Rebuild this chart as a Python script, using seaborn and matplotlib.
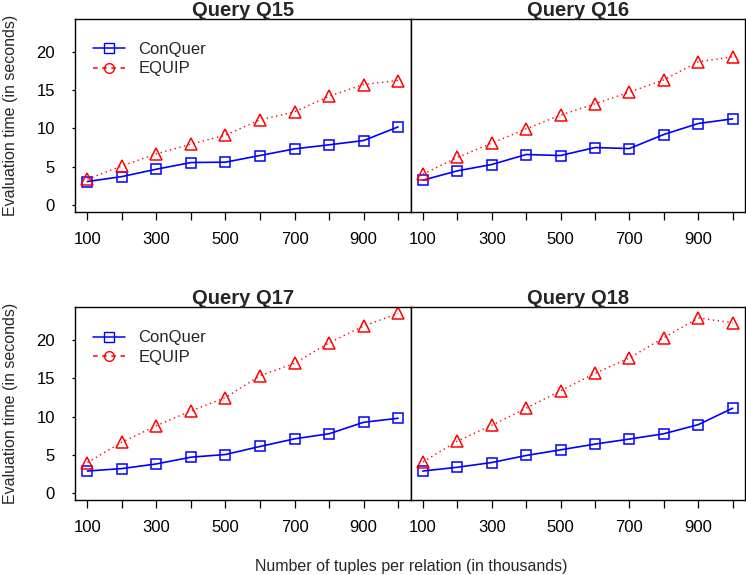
import numpy as np
import pandas as pd
import matplotlib
matplotlib.use("Agg")
import matplotlib.pyplot as plt
from matplotlib.lines import Line2D
import seaborn as sns

# ---------------- data ----------------
tuples = [100, 200, 300, 400, 500, 600, 700, 800, 900, 1000]
x_tick_labels = ["100", "", "300", "", "500", "", "700", "", "900", ""]
y_ticks = [0, 5, 10, 15, 20]

queries = ["Query Q15", "Query Q16", "Query Q17", "Query Q18"]
series_names = ["ConQuer", "EQUIP"]

q15_conquer = [3.05, 3.7, 4.67, 5.54, 5.59, 6.46, 7.33, 7.86, 8.42, 10.2]
q15_equip = [3.36, 5.1, 6.68, 7.95, 9.13, 11.13, 12.18, 14.23, 15.76, 16.28]
q16_conquer = [3.23, 4.45, 5.28, 6.59, 6.46, 7.5, 7.37, 9.21, 10.65, 11.26]
q16_equip = [4.02, 6.2, 8.08, 9.95, 11.75, 13.23, 14.76, 16.37, 18.73, 19.38]
q17_conquer = [2.89, 3.21, 3.82, 4.7, 5.05, 6.1, 7.1, 7.76, 9.26, 9.79]
q17_equip = [4.0, 6.67, 8.82, 10.75, 12.5, 15.36, 16.97, 19.66, 21.84, 23.5]
q18_conquer = [2.89, 3.38, 4.0, 4.92, 5.66, 6.41, 7.07, 7.76, 8.95, 11.1]
q18_equip = [4.08, 6.8, 8.87, 11.1, 13.38, 15.66, 17.68, 20.32, 22.9, 22.29]

conquer_values = [q15_conquer, q16_conquer, q17_conquer, q18_conquer]
equip_values = [q15_equip, q16_equip, q17_equip, q18_equip]

# ---------------- style ----------------
sns.set_theme(style="white")
plt.rcParams["font.family"] = ["Liberation Sans", "DejaVu Sans"]

W, H = 746, 575
fig = plt.figure(figsize=(W / 100, H / 100), dpi=100)

def px_rect(x0, x1, ytop, ybot):
    return [x0 / W, 1 - ybot / H, (x1 - x0) / W, (ybot - ytop) / H]

rects = [
    px_rect(75, 410.5, 19.3, 211.7),
    px_rect(410.5, 745, 19.3, 211.7),
    px_rect(75, 410.5, 307.3, 500),
    px_rect(410.5, 745, 307.3, 500),
]

BLUE = "#0000FF"
RED = "#FF0000"

for i, (q, rect) in enumerate(zip(queries, rects)):
    ax = fig.add_axes(rect)
    df = pd.DataFrame({
        "tuples": tuples * 2,
        "time": conquer_values[i] + equip_values[i],
        "method": [series_names[0]] * len(tuples) + [series_names[1]] * len(tuples),
    })
    sub_c = df[df["method"] == "ConQuer"]
    sub_e = df[df["method"] == "EQUIP"]
    sns.lineplot(data=sub_c, x="tuples", y="time", ax=ax, color=BLUE,
                 linewidth=1.2, linestyle="-", marker="s", markersize=7.2,
                 markerfacecolor="none", markeredgecolor=BLUE, markeredgewidth=1.1,
                 legend=False)
    sns.lineplot(data=sub_e, x="tuples", y="time", ax=ax, color=RED,
                 linewidth=1.0, linestyle=(0, (1, 2.5)), marker="^", markersize=8.5,
                 markerfacecolor="none", markeredgecolor=RED, markeredgewidth=1.1,
                 legend=False)
    ax.set_xlim(64, 1036)
    ax.set_ylim(-0.9, 24.3)
    ax.set_xlabel("")
    ax.set_ylabel("")
    ax.set_title(q, fontsize=14.5, fontweight="bold", pad=2.5)
    ax.set_xticks(tuples)
    ax.set_xticklabels(x_tick_labels, fontsize=12)
    ax.tick_params(axis="x", direction="out", length=6, width=0.9, pad=8.5,
                   bottom=True, colors="black")
    if i % 2 == 0:
        ax.set_yticks(y_ticks)
        ax.set_yticklabels([str(v) for v in y_ticks], fontsize=12)
        ax.tick_params(axis="y", direction="out", length=2.5, width=0.9, pad=12,
                       left=True, colors="black")
        handles = [
            Line2D([0], [0], color=BLUE, lw=1.1, linestyle="-", marker="s",
                   markersize=6.5, markerfacecolor="none", markeredgecolor=BLUE),
            Line2D([0], [0], color=RED, lw=1.1, linestyle=(0, (3, 3)), marker="o",
                   markersize=7, markerfacecolor="none", markeredgecolor=RED),
        ]
        ax.legend(handles, series_names, loc="upper left", frameon=False,
                  fontsize=12, handlelength=1.9, handletextpad=0.8,
                  labelspacing=0.25, borderaxespad=0.0,
                  bbox_to_anchor=(0.035, 0.915))
    else:
        ax.set_yticks([])
    for s in ax.spines.values():
        s.set_visible(True)
        s.set_color("black")
        s.set_linewidth(1.0)
    ax.grid(False)

fig.text(11 / W, 1 - 115.5 / H, "Evaluation time (in seconds)", rotation=90,
         ha="center", va="center", fontsize=11.5)
fig.text(11 / W, 1 - 403.7 / H, "Evaluation time (in seconds)", rotation=90,
         ha="center", va="center", fontsize=11.5)
fig.text(411 / W, 1 - 566 / H, "Number of tuples per relation (in thousands)",
         ha="center", va="center", fontsize=11.5)

fig.savefig("out.png", dpi=100)
